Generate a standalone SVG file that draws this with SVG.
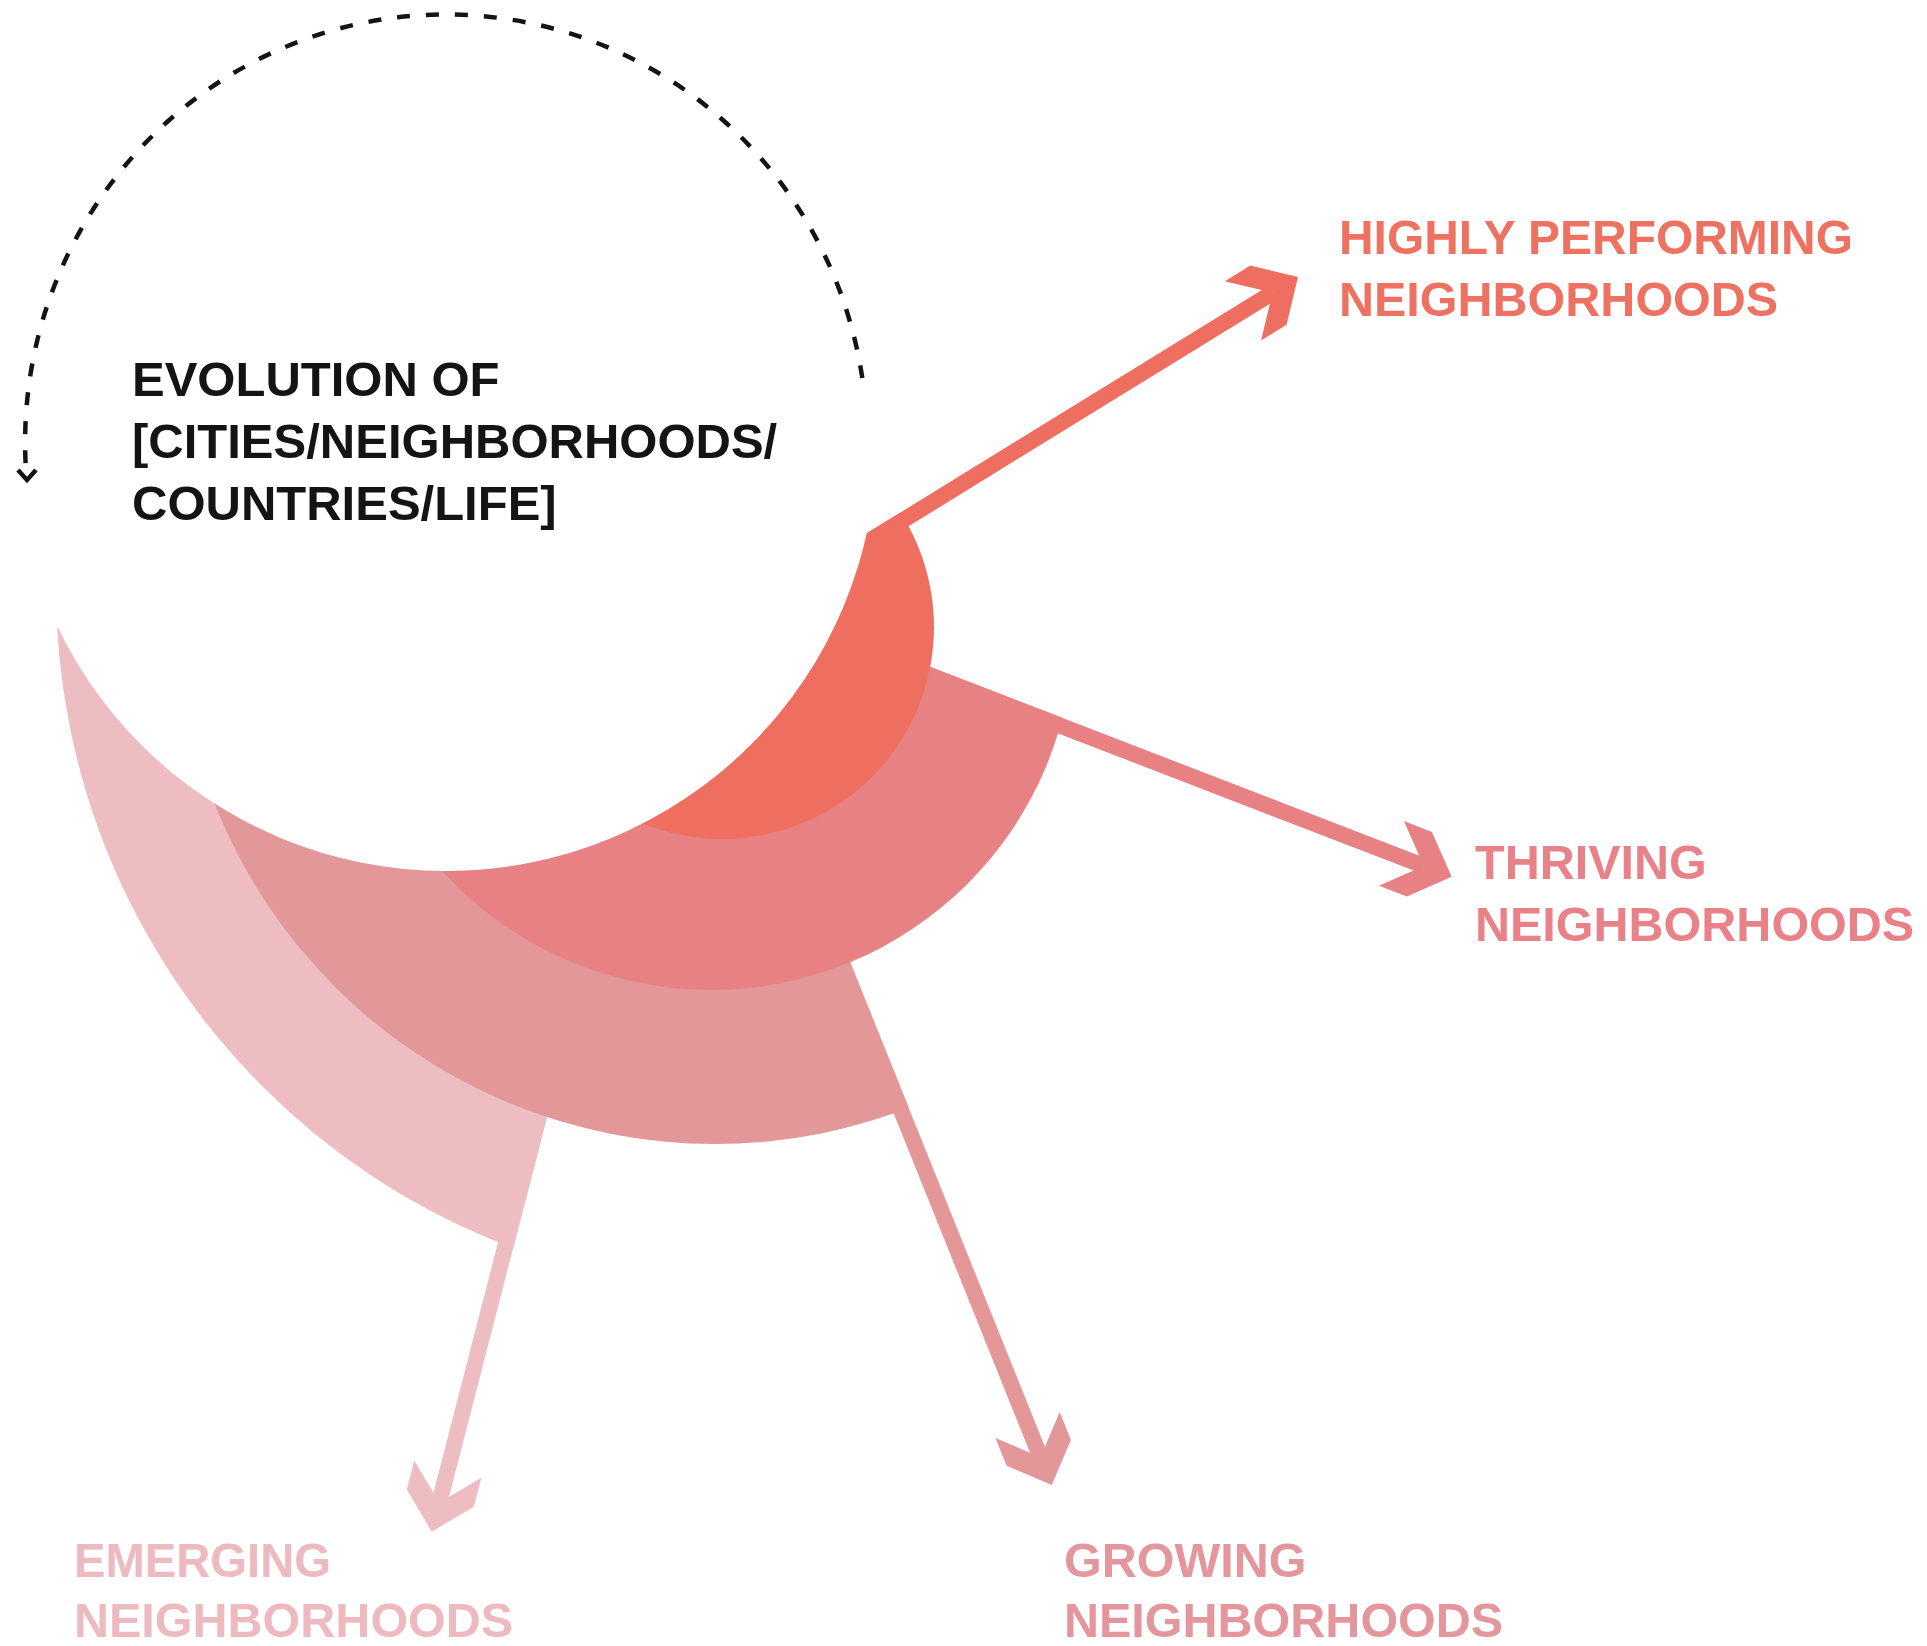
<svg xmlns="http://www.w3.org/2000/svg" width="1927" height="1646" viewBox="0 0 1927 1646">
  <style>
    text { font-family: "Liberation Sans", Arial, sans-serif; font-weight: bold; }
    .title { font-size: 49px; fill: #141414; }
    .lbl { font-size: 48.5px; }
    .shaft { fill: none; stroke-width: 16; stroke-linecap: butt; }
    .emerging { fill: #EDBDC2; }
    .growing { fill: #E39799; }
    .thriving { fill: #E88184; }
    .highly { fill: #EE6F60; }
    .s-emerging { stroke: #EDBDC2; }
    .s-growing { stroke: #E39799; }
    .s-thriving { stroke: #E88184; }
    .s-highly { stroke: #EE6F60; }
    .cycle { fill: none; stroke: #141414; stroke-width: 4.5; }
  </style>
  <defs>
    <!-- each band is its own disc, cut along the outer edge of its arrow shaft -->
    <clipPath id="cut-emerging"><polygon points="446,440 -100,704 -100,1646 410.5,1646 610.9,870"/></clipPath>
    <clipPath id="cut-growing"><polygon points="0,0 463.4,0 1125,1646 0,1646"/></clipPath>
    <clipPath id="cut-thriving"><polygon points="200,385.1 1500,886.7 1500,1300 200,1300"/></clipPath>
    <clipPath id="cut-highly"><polygon points="300,882.3 1100,389.5 1100,1100 300,1100"/></clipPath>
  </defs>

  <rect width="1927" height="1646" fill="#ffffff"/>

  <!-- arrows leaving each band: shaft plus a 90-degree chevron head -->
  <g id="connectors">
    <line class="shaft s-emerging" x1="548.2" y1="1080" x2="439.2" y2="1502.7"/>
    <polygon class="emerging" points="431.7,1531.7 406.8,1489.5 414.3,1460.5 439.2,1502.7 481.4,1477.8 473.9,1506.8"/>

    <line class="shaft s-growing" x1="828.6" y1="930" x2="1040.5" y2="1457.2"/>
    <polygon class="growing" points="1051.7,1485 1006.6,1465.8 995.4,1437.9 1040.5,1457.2 1059.7,1412.1 1070.9,1439.9"/>

    <line class="shaft s-thriving" x1="900" y1="663.8" x2="1423.7" y2="865.9"/>
    <polygon class="thriving" points="1451.7,876.7 1406.9,896.6 1378.9,885.8 1423.7,865.9 1403.9,821.1 1431.9,831.9"/>

    <line class="shaft s-highly" x1="860" y1="546.8" x2="1272.5" y2="292.7"/>
    <polygon class="highly" points="1298,277 1286.6,324.7 1261.1,340.4 1272.5,292.7 1224.8,281.3 1250.3,265.6"/>
  </g>

  <g id="node-emerging">
    <circle class="emerging" cx="761" cy="588" r="705" clip-path="url(#cut-emerging)"/>
    <text class="lbl" fill="#EDBAC0" x="74" y="1577" textLength="257" lengthAdjust="spacingAndGlyphs">EMERGING</text>
    <text class="lbl" fill="#EDBAC0" x="74" y="1637">NEIGHBORHOODS</text>
  </g>

  <g id="node-growing">
    <circle class="growing" cx="715" cy="606" r="538" clip-path="url(#cut-growing)"/>
    <text class="lbl" fill="#E3979C" x="1064" y="1577">GROWING</text>
    <text class="lbl" fill="#E3979C" x="1064" y="1637">NEIGHBORHOODS</text>
  </g>

  <g id="node-thriving">
    <circle class="thriving" cx="711" cy="627" r="363" clip-path="url(#cut-thriving)"/>
    <text class="lbl" fill="#E88288" x="1475" y="879">THRIVING</text>
    <text class="lbl" fill="#E88288" x="1475" y="941">NEIGHBORHOODS</text>
  </g>

  <g id="node-highly">
    <circle class="highly" cx="722" cy="627" r="212" clip-path="url(#cut-highly)"/>
    <text class="lbl" fill="#EE7262" x="1339" y="254" textLength="514" lengthAdjust="spacingAndGlyphs">HIGHLY PERFORMING</text>
    <text class="lbl" fill="#EE7262" x="1339" y="316">NEIGHBORHOODS</text>
  </g>

  <!-- central circle with the dotted cycle and its title -->
  <g id="node-evolution">
    <circle cx="446" cy="440" r="431" fill="#ffffff"/>
    <path class="cycle" stroke-dasharray="13 16" d="M 862.3 378 A 421 428 0 0 0 26.4 476"/>
    <polyline class="cycle" stroke-width="4" points="18,470 27,480 36,470"/>
    <text class="title" x="132" y="396">EVOLUTION OF</text>
    <text class="title" x="132" y="458">[CITIES/NEIGHBORHOODS/</text>
    <text class="title" x="132" y="520">COUNTRIES/LIFE]</text>
  </g>
</svg>
